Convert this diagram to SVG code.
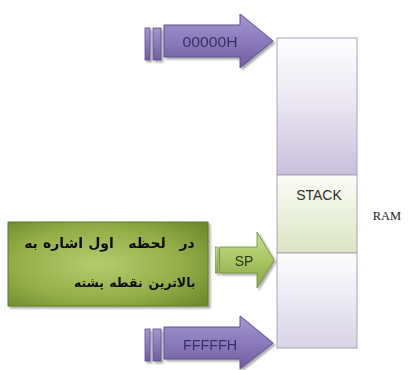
<svg xmlns="http://www.w3.org/2000/svg" width="410" height="370" viewBox="0 0 410 370">
  <style>
    .lbl { font-family: "Liberation Sans", Arial, sans-serif; }
    .ptxt { font-size: 14px; fill: #3b2f66; text-anchor: middle; }
    .fa { font-family: "DejaVu Sans", sans-serif; font-weight: bold; font-size: 14px; fill: #0d0d0d; text-anchor: middle; }
    .fa2 { font-size: 12.5px; }
    .cell { stroke: #a9a4b8; stroke-width: 1; }
    .parrow { fill: url(#purpleBody); stroke: #5f4f8c; stroke-width: 1; }
    .pbar { fill: url(#purpleBody); stroke: #5f4f8c; stroke-width: 0.8; }
  </style>
  <defs>
    <linearGradient id="purpleBody" x1="0" y1="0" x2="0" y2="1">
      <stop offset="0" stop-color="#a597d0"/>
      <stop offset="0.5" stop-color="#8b7abc"/>
      <stop offset="1" stop-color="#6f5da0"/>
    </linearGradient>
    <linearGradient id="greenArrow" x1="0" y1="0" x2="0" y2="1">
      <stop offset="0" stop-color="#c9df8f"/>
      <stop offset="0.5" stop-color="#a9c665"/>
      <stop offset="1" stop-color="#88a843"/>
    </linearGradient>
    <radialGradient id="greenBox" cx="0.45" cy="0.5" r="0.7">
      <stop offset="0" stop-color="#b5cc6e"/>
      <stop offset="0.6" stop-color="#94ae48"/>
      <stop offset="1" stop-color="#6e8a2c"/>
    </radialGradient>
    <linearGradient id="topCell" x1="0" y1="0" x2="0" y2="1">
      <stop offset="0" stop-color="#fdfdfe"/>
      <stop offset="0.45" stop-color="#ece8f3"/>
      <stop offset="1" stop-color="#c8bfdb"/>
    </linearGradient>
    <linearGradient id="stackCell" x1="0" y1="0" x2="0" y2="1">
      <stop offset="0" stop-color="#fbfcf7"/>
      <stop offset="1" stop-color="#dbe4c2"/>
    </linearGradient>
    <linearGradient id="bottomCell" x1="0" y1="0" x2="0" y2="1">
      <stop offset="0" stop-color="#fdfdfe"/>
      <stop offset="1" stop-color="#d8d3e6"/>
    </linearGradient>
    <filter id="shadow" x="-10%" y="-10%" width="130%" height="130%">
      <feGaussianBlur in="SourceAlpha" stdDeviation="1.2"/>
      <feOffset dx="2" dy="2" result="b"/>
      <feComponentTransfer><feFuncA type="linear" slope="0.35"/></feComponentTransfer>
      <feMerge><feMergeNode/><feMergeNode in="SourceGraphic"/></feMerge>
    </filter>
  </defs>

  <!-- RAM memory column -->
  <g id="ram">
    <rect class="cell" x="277" y="38" width="80" height="137" fill="url(#topCell)"/>
    <rect class="cell" x="277" y="175" width="80" height="78" fill="url(#stackCell)"/>
    <rect class="cell" x="277" y="253" width="80" height="95" fill="url(#bottomCell)"/>
    <text class="lbl" x="319" y="200" font-size="14" fill="#2e2e2e" text-anchor="middle">STACK</text>
    <text x="387" y="220" font-family="'Liberation Serif', 'Times New Roman', serif" font-size="12.5" fill="#222" text-anchor="middle">RAM</text>
  </g>

  <!-- address pointers -->
  <g id="connectors">
    <g id="arrow-top" filter="url(#shadow)">
      <rect class="pbar" x="145" y="28" width="5" height="32"/>
      <rect class="pbar" x="153" y="28" width="8" height="32"/>
      <path class="parrow" d="M164,25 H240 V14 L273,41 L240,68 V57 H164 Z"/>
      <text class="lbl ptxt" x="210" y="47" textLength="55" lengthAdjust="spacingAndGlyphs">00000H</text>
    </g>
    <g id="arrow-bottom" filter="url(#shadow)">
      <rect class="pbar" x="145" y="329" width="5" height="32"/>
      <rect class="pbar" x="153" y="329" width="8" height="32"/>
      <path class="parrow" d="M164,327 H240 V316 L273,343 L240,369 V359 H164 Z"/>
      <text class="lbl ptxt" x="210" y="350" textLength="54" lengthAdjust="spacingAndGlyphs">FFFFFH</text>
    </g>
    <g id="arrow-sp" filter="url(#shadow)">
      <rect x="215.5" y="247" width="2.5" height="26" fill="url(#greenArrow)" stroke="#6d8a30" stroke-width="0.6"/>
      <path d="M219.5,247 H257 V232 L274,260 L257,288 V273 H219.5 Z" fill="url(#greenArrow)" stroke="#6d8a30" stroke-width="0.8"/>
      <text class="lbl" x="244" y="266" font-size="14" fill="#2a3510" text-anchor="middle">SP</text>
    </g>
  </g>

  <!-- note box: each word placed on its own so the lines read right-to-left -->
  <g id="note" filter="url(#shadow)">
    <rect x="8" y="222" width="200" height="84" fill="url(#greenBox)" stroke="#5f7a24" stroke-width="1"/>
    <text class="fa" x="187" y="248">در</text>
    <text class="fa" x="147" y="248">لحظه</text>
    <text class="fa" x="101" y="248">اول</text>
    <text class="fa" x="63" y="248">اشاره</text>
    <text class="fa" x="31" y="248">به</text>
    <text class="fa fa2" x="172" y="287">بالاترین</text>
    <text class="fa fa2" x="126" y="287">نقطه</text>
    <text class="fa fa2" x="89" y="287">پشته</text>
  </g>
</svg>
